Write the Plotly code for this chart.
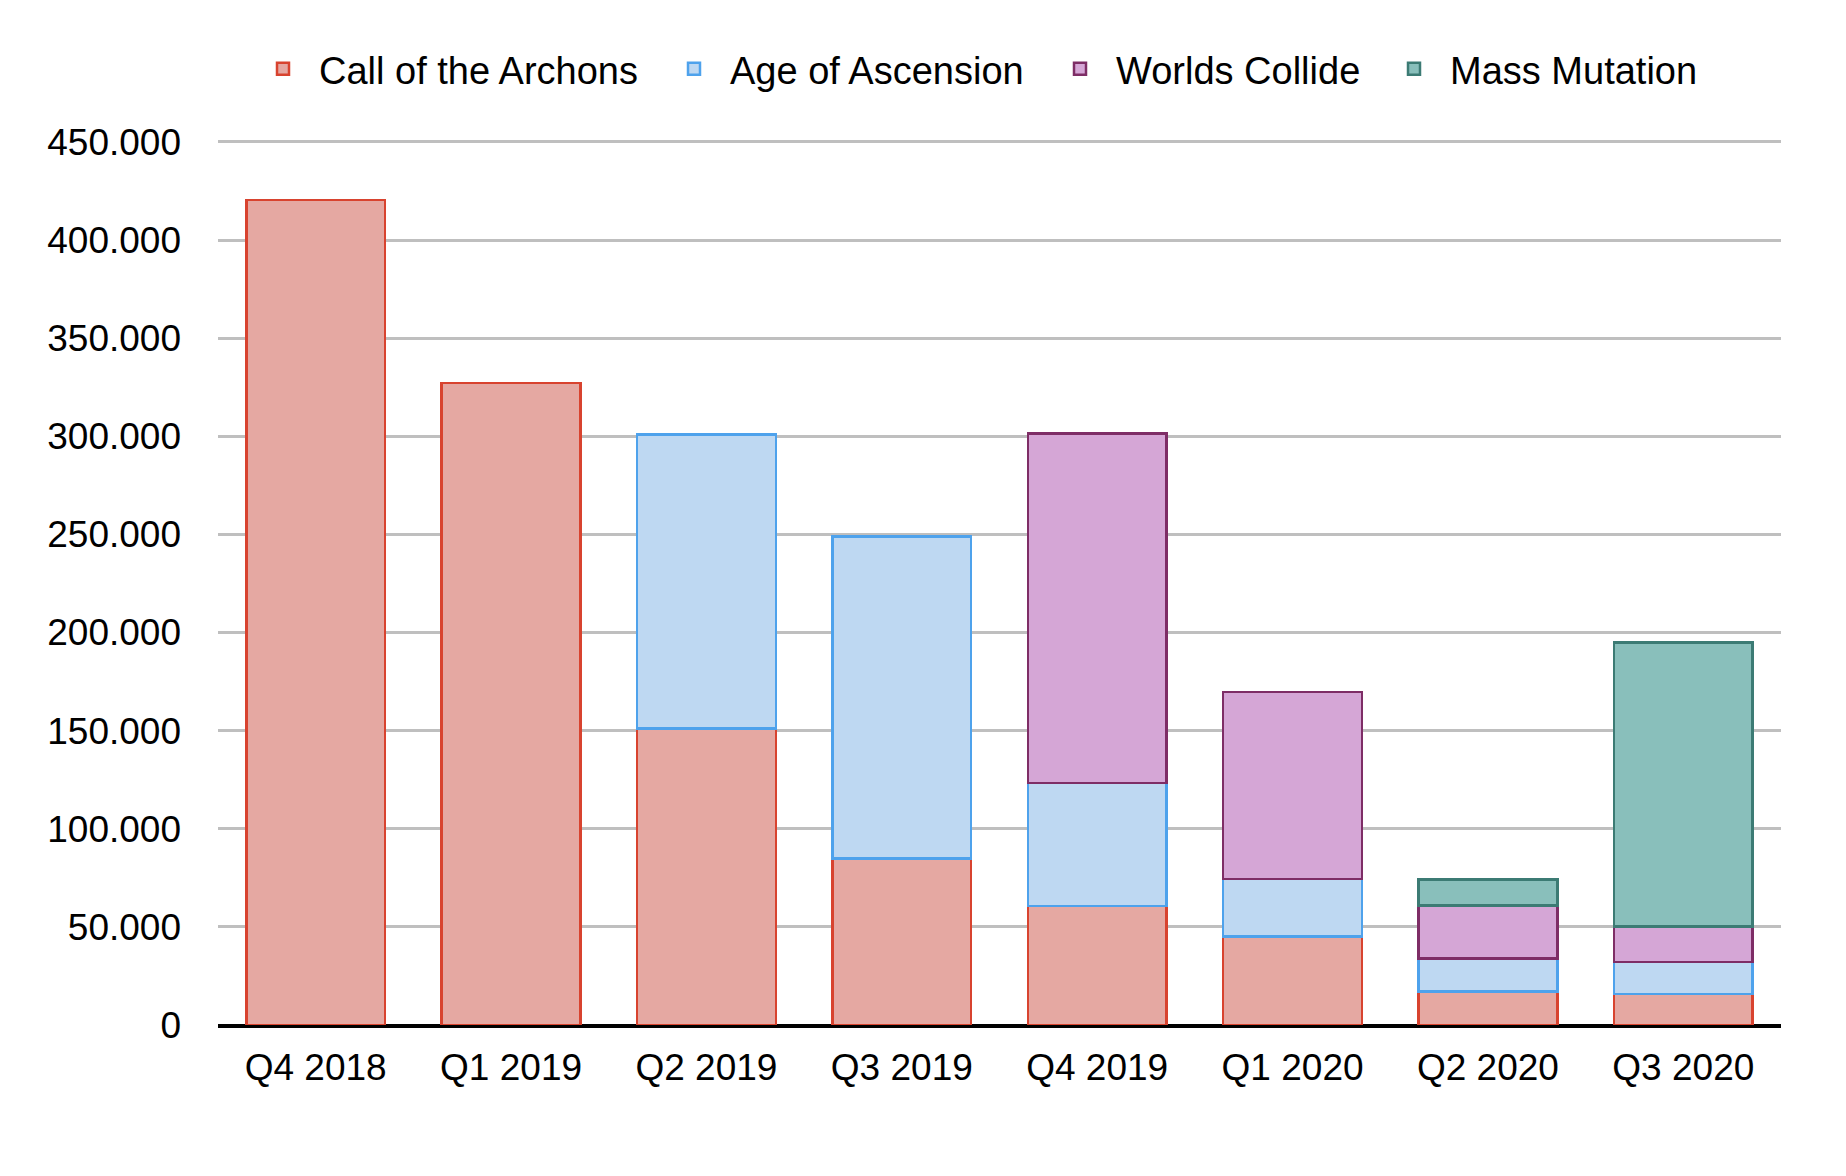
import plotly.graph_objects as go

quarters = ["Q4 2018", "Q1 2019", "Q2 2019", "Q3 2019", "Q4 2019", "Q1 2020", "Q2 2020", "Q3 2020"]
call_of_the_archons = [420500, 327200, 151200, 84800, 60600, 45000, 17200, 15900]
age_of_ascension = [None, None, 149800, 164100, 62700, 29300, 16600, 16200]
worlds_collide = [None, None, None, None, 178100, 95300, 27100, 18200]
mass_mutation = [None, None, None, None, None, None, 13300, 144700]

series = [
    ("Call of the Archons", call_of_the_archons, "#e5a8a2", "#d8432f"),
    ("Age of Ascension", age_of_ascension, "#bed8f2", "#4ea2ec"),
    ("Worlds Collide", worlds_collide, "#d5a6d6", "#7e2d66"),
    ("Mass Mutation", mass_mutation, "#89bfbb", "#3c7b74"),
]

W, H = 1830, 1160
legend_names = ["legend", "legend2", "legend3", "legend4"]
legend_left_px = [239, 650, 1036, 1370]

FONT = "Liberation Sans, Arial, Helvetica, sans-serif"

fig = go.Figure()
for (name, vals, fill, line), lg in zip(series, legend_names):
    fig.add_trace(go.Bar(
        x=quarters, y=vals, name=name, legend=lg,
        marker=dict(color=fill, line=dict(color=line, width=2.5)),
    ))

legend_layout = {}
for lg, lx in zip(legend_names, legend_left_px):
    legend_layout[lg] = dict(
        xref="container", yref="container",
        x=lx / W, xanchor="left", y=1 - 61 / H, yanchor="middle",
        orientation="h", font=dict(size=38, family=FONT, color="black"),
        bgcolor="rgba(0,0,0,0)", borderwidth=0, itemwidth=62,
    )

fig.update_layout(
    width=W, height=H,
    barmode="stack", bargap=0.29,
    separators=",.",
    paper_bgcolor="white", plot_bgcolor="white",
    font=dict(family=FONT, size=37, color="black"),
    margin=dict(l=210, r=57, t=130, b=143),
    showlegend=True,
    xaxis=dict(showgrid=False, showline=True, linecolor="black", linewidth=2.5,
               ticks="", ticklabelstandoff=8, tickfont=dict(size=37)),
    yaxis=dict(range=[0, 452000], dtick=50000, tickformat=",d",
               showgrid=True, gridcolor="#bfbfbf", gridwidth=2.5,
               zeroline=True, zerolinecolor="black", zerolinewidth=2.5,
               ticks="", ticklabelstandoff=36, tickfont=dict(size=37)),
    **legend_layout,
)

fig.write_html("out.html")
